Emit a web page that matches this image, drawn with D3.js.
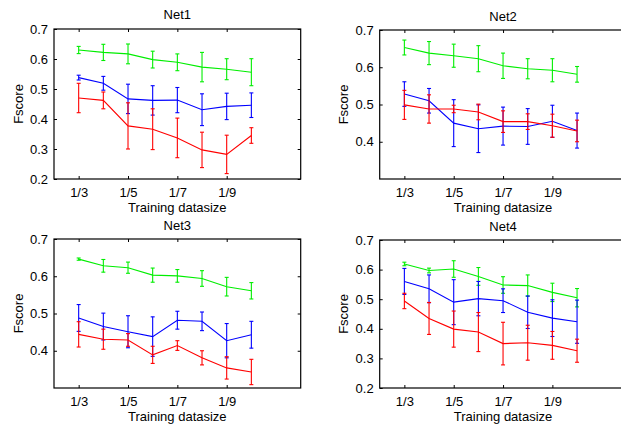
<!DOCTYPE html>
<html><head><meta charset="utf-8">
<script src="https://cdn.jsdelivr.net/npm/d3@7"></script>
<style>
body{margin:0;background:#fff;}
svg{display:block;font-family:"Liberation Sans",Arial,sans-serif;}
</style></head>
<body>
<svg id="chart" width="621" height="427"></svg>
<script>
// ---- data ----
const xValues = [3,4,5,6,7,8,9,10];
const xTickValues = [3,5,7,9];
const xTickLabels = ["1/3","1/5","1/7","1/9"];

const net1Green    = [0.630,0.622,0.617,0.598,0.589,0.573,0.566,0.556];
const net1GreenErr = [0.012,0.027,0.033,0.028,0.028,0.049,0.035,0.045];
const net1Blue     = [0.538,0.519,0.467,0.462,0.463,0.431,0.442,0.446];
const net1BlueErr  = [0.008,0.023,0.049,0.049,0.042,0.053,0.044,0.041];
const net1Red      = [0.470,0.462,0.377,0.366,0.337,0.297,0.282,0.345];
const net1RedErr   = [0.049,0.028,0.077,0.068,0.066,0.059,0.064,0.026];

const net2Green    = [0.653,0.638,0.631,0.623,0.604,0.596,0.592,0.581];
const net2GreenErr = [0.020,0.031,0.031,0.035,0.034,0.027,0.031,0.021];
const net2Blue     = [0.528,0.510,0.450,0.435,0.442,0.441,0.455,0.430];
const net2BlueErr  = [0.033,0.033,0.063,0.064,0.051,0.048,0.043,0.047];
const net2Red      = [0.499,0.488,0.488,0.480,0.454,0.454,0.443,0.429];
const net2RedErr   = [0.039,0.038,0.010,0.021,0.029,0.021,0.031,0.029];

const net3Green    = [0.646,0.628,0.623,0.603,0.601,0.594,0.572,0.561];
const net3GreenErr = [0.003,0.017,0.015,0.019,0.017,0.021,0.025,0.022];
const net3Blue     = [0.488,0.465,0.451,0.438,0.482,0.479,0.427,0.443];
const net3BlueErr  = [0.036,0.036,0.043,0.053,0.024,0.025,0.046,0.036];
const net3Red      = [0.444,0.431,0.429,0.389,0.414,0.381,0.354,0.343];
const net3RedErr   = [0.034,0.027,0.017,0.023,0.013,0.019,0.030,0.034];

const net4Green    = [0.619,0.597,0.602,0.577,0.548,0.546,0.523,0.505];
const net4GreenErr = [0.006,0.008,0.028,0.030,0.028,0.036,0.031,0.031];
const net4Blue     = [0.560,0.535,0.490,0.502,0.495,0.456,0.436,0.424];
const net4BlueErr  = [0.044,0.047,0.076,0.058,0.040,0.055,0.062,0.073];
const net4Red      = [0.494,0.435,0.399,0.389,0.350,0.353,0.344,0.326];
const net4RedErr   = [0.026,0.054,0.061,0.066,0.072,0.059,0.047,0.039];

const titles = ["Net1","Net2","Net3","Net4"];
const yTicks1 = [0.2,0.3,0.4,0.5,0.6,0.7];
const yTicks2 = [0.4,0.5,0.6,0.7];
const yTicks3 = [0.4,0.5,0.6,0.7];
const yTicks4 = [0.2,0.3,0.4,0.5,0.6,0.7];
const xLabel = "Training datasize";
const yLabel = "Fscore";

// ---- layout ----
const panels = [
  {title:titles[0], left:54, top:29, bottom:179, yDomain:[0.2,0.7], yTicks:yTicks1, titleY:14, ylabX:18.5,
   series:[[net1Green,net1GreenErr,"#00ee00"],[net1Blue,net1BlueErr,"#0000ff"],[net1Red,net1RedErr,"#ff0000"]]},
  {title:titles[1], left:379.7, top:30, bottom:179, yDomain:[0.3,0.7], yTicks:yTicks2, titleY:16, ylabX:343.5,
   series:[[net2Green,net2GreenErr,"#00ee00"],[net2Blue,net2BlueErr,"#0000ff"],[net2Red,net2RedErr,"#ff0000"]]},
  {title:titles[2], left:54, top:239, bottom:388, yDomain:[0.3,0.7], yTicks:yTicks3, titleY:225, ylabX:18.5,
   series:[[net3Green,net3GreenErr,"#00ee00"],[net3Blue,net3BlueErr,"#0000ff"],[net3Red,net3RedErr,"#ff0000"]]},
  {title:titles[3], left:379.7, top:240, bottom:388, yDomain:[0.2,0.7], yTicks:yTicks4, titleY:226, ylabX:343.5,
   series:[[net4Green,net4GreenErr,"#00ee00"],[net4Blue,net4BlueErr,"#0000ff"],[net4Red,net4RedErr,"#ff0000"]]}
];
const unit = 24.67;
const svg = d3.select("#chart");

panels.forEach(p => {
  const w = unit*10;
  const h = p.bottom - p.top;
  const x = d3.scaleLinear().domain([2,12]).range([0,w]);
  const y = d3.scaleLinear().domain(p.yDomain).range([h,0]);
  const g = svg.append("g").attr("transform",`translate(${p.left},${p.top})`);

  // series
  p.series.forEach(([vals,errs,color]) => {
    const line = d3.line().x((d,i)=>x(xValues[i])).y(d=>y(d));
    g.append("path").datum(vals).attr("d",line)
      .attr("fill","none").attr("stroke",color).attr("stroke-width",1.1);
    vals.forEach((v,i) => {
      const cx = x(xValues[i]);
      const y0 = y(v-errs[i]), y1 = y(v+errs[i]);
      g.append("line").attr("x1",cx).attr("x2",cx).attr("y1",y0).attr("y2",y1)
        .attr("stroke",color).attr("stroke-width",1.1);
      [y0,y1].forEach(yy => g.append("line").attr("x1",cx-2).attr("x2",cx+2)
        .attr("y1",yy).attr("y2",yy).attr("stroke",color).attr("stroke-width",1.1));
    });
  });

  // axes
  const fmt = d3.format(".1f");
  const ax = (sel) => { sel.select(".domain").remove(); sel.selectAll("line").attr("stroke","#000"); sel.selectAll("text").attr("fill","#000").attr("font-size",13).attr("font-family","Liberation Sans, Arial, sans-serif"); };
  g.append("g").call(d3.axisLeft(y).tickValues(p.yTicks).tickFormat(fmt).tickSizeInner(-3).tickSizeOuter(0).tickPadding(6)).call(ax);
  g.append("g").attr("transform",`translate(${w},0)`).call(d3.axisRight(y).tickValues(p.yTicks).tickFormat("").tickSizeInner(-3).tickSizeOuter(0)).call(ax);
  g.append("g").attr("transform",`translate(0,${h})`).call(d3.axisBottom(x).tickValues(xTickValues).tickFormat((d,i)=>xTickLabels[i]).tickSizeInner(-3).tickSizeOuter(0).tickPadding(9)).call(ax);
  g.append("g").call(d3.axisTop(x).tickValues(xTickValues).tickFormat("").tickSizeInner(-3).tickSizeOuter(0)).call(ax);
  g.append("rect").attr("x",0).attr("y",0).attr("width",w).attr("height",h)
    .attr("fill","none").attr("stroke","#000").attr("stroke-width",1.2);

  // labels
  svg.append("text").attr("x",p.left+w/2).attr("y",p.titleY).attr("dy","0.35em")
    .attr("text-anchor","middle").attr("font-size",13).text(p.title);
  svg.append("text").attr("x",p.left+w/2).attr("y",p.bottom+28).attr("dy","0.35em")
    .attr("text-anchor","middle").attr("font-size",13).text(xLabel);
  svg.append("text").attr("transform",`translate(${p.ylabX},${(p.top+p.bottom)/2}) rotate(-90)`)
    .attr("dy","0.35em").attr("text-anchor","middle").attr("font-size",13).text(yLabel);
});
</script>
</body></html>
